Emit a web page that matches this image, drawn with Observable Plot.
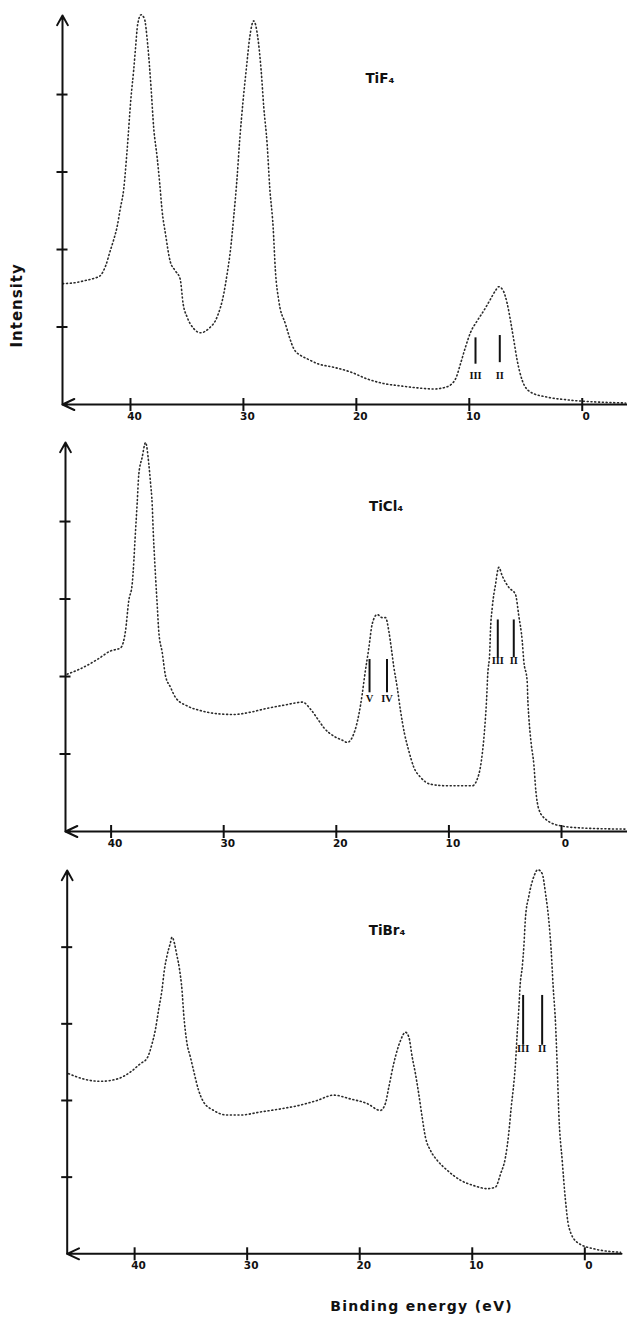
<!DOCTYPE html>
<html>
<head>
<meta charset="utf-8">
<script src="https://cdn.jsdelivr.net/npm/d3@7"></script>
<script src="https://cdn.jsdelivr.net/npm/@observablehq/plot@0.6"></script>
<style>
html, body { margin: 0; padding: 0; background: #fff; }
#chart { position: relative; width: 627px; height: 1318px; overflow: hidden; }
#chart svg { position: absolute; left: 0; }
</style>
</head>
<body>
<div id="chart"></div>
<script>
// ---------------- data ----------------
const xTicks = [40, 30, 20, 10, 0];
const yTicks = [1, 2, 3, 4];
const compounds = ["TiF₄", "TiCl₄", "TiBr₄"];
const yLabel = "Intensity";
const xLabel = "Binding energy (eV)";

// TiF4 spectrum
const tif4Energy = [46.0, 45.0, 44.0, 43.2, 42.7, 42.2, 41.78, 41.5, 41.19, 40.9, 40.6, 40.3, 39.95, 39.72, 39.57, 39.36, 39.06, 38.77, 38.48, 38.18, 37.95, 37.64, 37.41, 37.2, 36.9, 36.47, 36.0, 35.6, 35.34, 34.99, 34.4, 33.81, 33.07, 32.33, 31.74, 31.44, 31.15, 30.86, 30.56, 30.33, 30.03, 29.73, 29.44, 29.09, 28.73, 28.43, 28.2, 27.9, 27.67, 27.37, 27.17, 26.87, 26.28, 25.54, 24.9, 24.36, 23.4, 22.0, 20.52, 19.04, 17.57, 16.09, 14.62, 13.14, 11.96, 11.22, 10.78, 10.34, 9.89, 9.3, 8.72, 8.12, 7.68, 7.39, 7.0, 6.64, 6.35, 6.06, 5.76, 5.31, 4.58, 3.1, 1.33, -1.62, -3.84];
const tif4Intensity = [1.56, 1.57, 1.60, 1.63, 1.66, 1.79, 1.99, 2.12, 2.29, 2.53, 2.78, 3.28, 3.97, 4.31, 4.57, 4.91, 5.03, 4.98, 4.65, 4.09, 3.58, 3.19, 2.85, 2.50, 2.20, 1.84, 1.72, 1.62, 1.30, 1.13, 0.98, 0.925, 0.98, 1.13, 1.43, 1.69, 1.99, 2.42, 2.93, 3.41, 3.92, 4.35, 4.74, 4.95, 4.74, 4.31, 3.84, 3.36, 2.80, 2.29, 1.73, 1.34, 1.04, 0.72, 0.63, 0.59, 0.525, 0.48, 0.42, 0.33, 0.27, 0.24, 0.215, 0.20, 0.23, 0.33, 0.525, 0.74, 0.93, 1.08, 1.21, 1.36, 1.47, 1.52, 1.47, 1.30, 1.08, 0.83, 0.57, 0.31, 0.16, 0.095, 0.06, 0.03, 0.02];
const tif4Bands = ["III", "II"];
const tif4BandEnergy = [9.45, 7.30];
const tif4BandTop = [0.86, 0.89];
const tif4BandBottom = [0.52, 0.54];
const tif4BandLabelY = [0.37, 0.37];

// TiCl4 spectrum
const ticl4Energy = [43.9, 42.72, 41.23, 40.05, 39.16, 38.72, 38.43, 38.13, 37.98, 37.89, 37.68, 37.54, 37.24, 36.94, 36.65, 36.5, 36.35, 36.25, 36.15, 36.05, 35.9, 35.76, 35.46, 35.17, 34.72, 34.28, 33.24, 32.06, 30.58, 29.1, 27.62, 26.14, 24.66, 23.6, 23.0, 22.3, 21.55, 21.11, 20.22, 19.5, 19.03, 18.45, 18.0, 17.7, 17.5, 17.11, 16.81, 16.37, 15.92, 15.63, 15.34, 15.12, 14.89, 14.59, 14.3, 13.94, 13.56, 13.12, 12.52, 11.63, 10.15, 8.68, 7.93, 7.34, 7.04, 6.84, 6.66, 6.55, 6.37, 6.31, 6.15, 5.86, 5.57, 5.27, 4.68, 4.09, 3.79, 3.49, 3.35, 3.05, 2.99, 2.9, 2.69, 2.46, 2.28, 2.02, 1.42, 0.09, -1.98, -5.68];
const ticl4Intensity = [2.03, 2.10, 2.22, 2.33, 2.37, 2.59, 2.98, 3.19, 3.49, 3.73, 4.25, 4.61, 4.83, 5.02, 4.74, 4.50, 4.22, 3.84, 3.55, 3.28, 2.91, 2.57, 2.31, 2.01, 1.86, 1.73, 1.62, 1.56, 1.52, 1.51, 1.54, 1.59, 1.63, 1.66, 1.67, 1.58, 1.43, 1.34, 1.23, 1.18, 1.15, 1.26, 1.51, 1.77, 1.99, 2.37, 2.68, 2.80, 2.76, 2.76, 2.59, 2.37, 2.12, 1.86, 1.56, 1.26, 1.04, 0.83, 0.70, 0.61, 0.59, 0.59, 0.59, 0.74, 1.0, 1.30, 1.69, 2.03, 2.33, 2.59, 2.89, 3.19, 3.41, 3.30, 3.15, 3.06, 2.78, 2.46, 2.20, 1.94, 1.69, 1.47, 1.13, 0.87, 0.525, 0.29, 0.16, 0.074, 0.044, 0.031];
const ticl4Bands = ["V", "IV", "III", "II"];
const ticl4BandEnergy = [17.05, 15.5, 5.66, 4.24];
const ticl4BandTop = [2.22, 2.22, 2.73, 2.73];
const ticl4BandBottom = [1.79, 1.79, 2.245, 2.245];
const ticl4BandLabelY = [1.71, 1.71, 2.20, 2.20];

// TiBr4 spectrum
const tibr4Energy = [45.87, 44.53, 43.05, 41.56, 40.38, 39.49, 38.9, 38.45, 38.16, 37.87, 37.57, 37.36, 37.12, 36.83, 36.68, 36.24, 36.0, 35.79, 35.64, 35.34, 35.05, 34.76, 34.31, 33.87, 32.98, 31.79, 30.6, 28.83, 27.05, 25.27, 23.79, 22.31, 20.83, 19.34, 18.16, 17.72, 17.42, 16.98, 16.68, 16.38, 15.94, 15.64, 15.34, 15.05, 14.76, 14.45, 14.16, 13.72, 13.12, 12.23, 11.05, 9.87, 8.68, 7.94, 7.49, 7.05, 6.76, 6.54, 6.31, 6.16, 6.01, 5.87, 5.75, 5.56, 5.42, 5.27, 4.98, 4.53, 4.18, 3.79, 3.49, 3.2, 2.99, 2.81, 2.6, 2.45, 2.31, 2.01, 1.72, 1.42, 0.68, -0.8, -3.17];
const tibr4Intensity = [2.35, 2.28, 2.25, 2.28, 2.37, 2.48, 2.55, 2.74, 2.92, 3.18, 3.44, 3.70, 3.89, 4.05, 4.13, 3.89, 3.70, 3.44, 3.13, 2.74, 2.57, 2.39, 2.13, 1.98, 1.87, 1.81, 1.81, 1.85, 1.89, 1.94, 2.0, 2.07, 2.02, 1.96, 1.87, 1.96, 2.17, 2.48, 2.65, 2.78, 2.89, 2.83, 2.57, 2.35, 2.09, 1.78, 1.52, 1.35, 1.22, 1.09, 0.96, 0.89, 0.85, 0.87, 1.04, 1.26, 1.57, 1.91, 2.22, 2.48, 2.87, 3.18, 3.50, 3.74, 4.0, 4.39, 4.66, 4.92, 5.01, 4.96, 4.70, 4.35, 3.96, 3.48, 3.0, 2.44, 1.83, 1.22, 0.70, 0.35, 0.15, 0.065, 0.02];
const tibr4Bands = ["III", "II"];
const tibr4BandEnergy = [5.48, 3.79];
const tibr4BandTop = [3.37, 3.37];
const tibr4BandBottom = [2.72, 2.72];
const tibr4BandLabelY = [2.68, 2.68];

// ---------------- layout (not data) ----------------
const W = 627;
const layouts = [
  {top: 0,     height: 426, ml: 62,   mr: 1, mt: 15, mb: 22,   x0: 46.02, x1: -3.92, yMax: 5.02, tx: 19.2,  ty: 4.21},
  {top: 426.7, height: 426, ml: 65,   mr: 0, mt: 15, mb: 22,   x0: 44.05, x1: -5.86, yMax: 5.02, tx: 17.1,  ty: 4.19},
  {top: 855,   height: 463, ml: 66.7, mr: 6, mt: 15, mb: 64.7, x0: 45.99, x1: -3.26, yMax: 5.0,  tx: 19.2,  ty: 4.21}
];
const INK = "#111";
const FONT = "DejaVu Sans, Verdana, sans-serif";

const spectra = [
  {e: tif4Energy, i: tif4Intensity, bl: tif4Bands, be: tif4BandEnergy, bt: tif4BandTop, bb: tif4BandBottom, by: tif4BandLabelY},
  {e: ticl4Energy, i: ticl4Intensity, bl: ticl4Bands, be: ticl4BandEnergy, bt: ticl4BandTop, bb: ticl4BandBottom, by: ticl4BandLabelY},
  {e: tibr4Energy, i: tibr4Intensity, bl: tibr4Bands, be: tibr4BandEnergy, bt: tibr4BandTop, bb: tibr4BandBottom, by: tibr4BandLabelY}
];

const chart = document.getElementById("chart");

spectra.forEach((s, k) => {
  const L = layouts[k];
  const rows = s.e.map((e, j) => ({e, i: s.i[j]}));
  const bands = s.bl.map((label, j) => ({label, e: s.be[j], t: s.bt[j], b: s.bb[j], ly: s.by[j]}));

  const marks = [
    // spectrum (dotted)
    Plot.line(rows, {x: "e", y: "i", curve: "monotone-x", stroke: "#2a2a2a", strokeWidth: 1.6, strokeDasharray: "1,2.8"}),
    // axes with arrow heads
    Plot.arrow([0], {x1: L.x0, y1: 0, x2: L.x0, y2: L.yMax, headLength: 8.25, headAngle: 58, strokeWidth: 2, stroke: INK}),
    Plot.arrow([0], {x1: L.x1, y1: 0, x2: L.x0, y2: 0, headLength: 9.75, headAngle: 50, strokeWidth: 2, stroke: INK}),
    // crossing ticks
    Plot.axisX({ticks: xTicks, tickSize: 13, dy: -6, tickFormat: () => "", label: null, strokeWidth: 2, stroke: INK}),
    Plot.axisX({ticks: xTicks, tickSize: 0, tickPadding: 8, dx: 4, label: null, fontWeight: "bold", fontSize: 10.5, fontFamily: FONT, fill: INK}),
    Plot.axisY({ticks: yTicks, tickSize: 11, dx: 5.5, tickFormat: () => "", label: null, strokeWidth: 2, stroke: INK}),
    // band markers
    Plot.ruleX(bands, {x: "e", y1: "b", y2: "t", strokeWidth: 2, stroke: INK}),
    Plot.text(bands, {x: "e", y: "ly", text: "label", fontFamily: "Liberation Serif, serif", fontWeight: "bold", fontSize: 10.5, fill: INK}),
    // compound name
    Plot.text([compounds[k]], {x: L.tx, y: L.ty, text: d => d, textAnchor: "start", fontFamily: FONT, fontWeight: "bold", fontSize: 13.5, fill: INK})
  ];
  if (k === 0) {
    marks.push(Plot.text([yLabel], {frameAnchor: "bottom-left", dx: -41, dy: -57, rotate: -90, text: d => d, fontFamily: FONT, fontWeight: "bold", fontSize: 15, fill: INK}));
  }
  if (k === 2) {
    marks.push(Plot.text([xLabel], {frameAnchor: "bottom-right", dx: -108.5, dy: 57, text: d => d, fontFamily: FONT, fontWeight: "bold", fontSize: 14, fill: INK}));
  }

  const svg = Plot.plot({
    width: W,
    height: L.height,
    marginLeft: L.ml, marginRight: L.mr, marginTop: L.mt, marginBottom: L.mb,
    x: {domain: [L.x0, L.x1]},
    y: {domain: [0, L.yMax]},
    style: {background: "transparent", overflow: "visible", fontFamily: FONT},
    marks
  });
  svg.style.top = L.top + "px";
  d3.select(svg).selectAll("text")
    .filter(function () { return this.textContent === xLabel; })
    .attr("letter-spacing", "1.3px");
  d3.select(svg).selectAll("text")
    .filter(function () { return this.textContent === yLabel; })
    .attr("letter-spacing", "1px");
  chart.appendChild(svg);
});
</script>
</body>
</html>
